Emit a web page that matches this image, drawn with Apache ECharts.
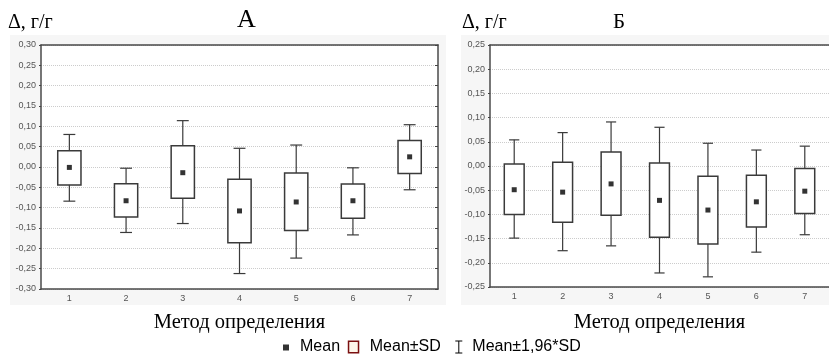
<!DOCTYPE html>
<html>
<head>
<meta charset="utf-8">
<script src="https://cdn.jsdelivr.net/npm/echarts@6/dist/echarts.min.js"></script>
<style>
  html, body { margin: 0; padding: 0; background: #fff; }
  #chart { width: 829px; height: 355px; }
</style>
</head>
<body>
<div id="chart"></div>
<script>
const categories = ['1', '2', '3', '4', '5', '6', '7'];

// panel A
const meanA   = [-0.001, -0.083, -0.014, -0.108, -0.086, -0.083, 0.025];
const sdLowA  = [-0.044, -0.123, -0.077, -0.186, -0.156, -0.126, -0.016];
const sdHighA = [0.040, -0.041, 0.052, -0.030, -0.015, -0.042, 0.065];
const ciLowA  = [-0.084, -0.161, -0.139, -0.262, -0.224, -0.167, -0.056];
const ciHighA = [0.080, -0.003, 0.114, 0.046, 0.054, -0.002, 0.104];

// panel B
const meanB   = [-0.049, -0.054, -0.037, -0.071, -0.091, -0.074, -0.052];
const sdLowB  = [-0.100, -0.116, -0.102, -0.147, -0.161, -0.126, -0.098];
const sdHighB = [0.004, 0.008, 0.029, 0.006, -0.021, -0.019, -0.005];
const ciLowB  = [-0.149, -0.175, -0.165, -0.221, -0.229, -0.178, -0.142];
const ciHighB = [0.054, 0.069, 0.091, 0.080, 0.047, 0.033, 0.041];

const rangeA = { min: -0.30, max: 0.30, interval: 0.05 };
const rangeB = { min: -0.25, max: 0.25, interval: 0.05 };

const chart = echarts.init(document.getElementById('chart'));

const fmt = v => (Math.abs(v) < 1e-9 ? 0 : v).toFixed(2).replace('.', ',');
const pairs = (lo, hi) => categories.map((c, i) => [i, lo[i], hi[i]]);
const points = vals => categories.map((c, i) => [i, vals[i]]);

function renderBox(params, api) {
    const x = api.value(0);
    const lo = api.coord([x, api.value(1)]);
    const hi = api.coord([x, api.value(2)]);
    const w = api.size([1, 0])[0] * 0.41;
    return {
        type: 'rect',
        shape: { x: lo[0] - w / 2, y: hi[1], width: w, height: lo[1] - hi[1] },
        style: { fill: '#fff', stroke: '#3a3a3a', lineWidth: 1.5 }
    };
}

function renderWhisker(params, api) {
    const x = api.value(0);
    const lo = api.coord([x, api.value(1)]);
    const hi = api.coord([x, api.value(2)]);
    const c = api.size([1, 0])[0] * 0.21 / 2;
    const style = { stroke: '#3a3a3a', lineWidth: 1.2 };
    return {
        type: 'group',
        children: [
            { type: 'line', shape: { x1: lo[0], y1: lo[1], x2: hi[0], y2: hi[1] }, style },
            { type: 'line', shape: { x1: lo[0] - c, y1: lo[1], x2: lo[0] + c, y2: lo[1] }, style },
            { type: 'line', shape: { x1: hi[0] - c, y1: hi[1], x2: hi[0] + c, y2: hi[1] }, style }
        ]
    };
}

const axisLine = { onZero: false, lineStyle: { color: '#4a4a4a', width: 1.5 } };
const axisLabel = { fontFamily: 'Liberation Sans', fontSize: 9, color: '#555' };
const nameStyle = { fontFamily: 'Liberation Serif', fontSize: 20.5, color: '#000' };

function bottomAxis(grid, gap) {
    return {
        type: 'category', gridIndex: grid, data: categories, boundaryGap: true,
        axisLine, axisTick: { alignWithLabel: true, inside: true, length: 2, lineStyle: { color: '#444' } },
        axisLabel: { ...axisLabel, margin: 5 },
        name: 'Метод определения', nameLocation: 'middle', nameGap: gap, nameTextStyle: nameStyle
    };
}
function topAxis(grid) {
    return {
        type: 'category', gridIndex: grid, data: categories, boundaryGap: true, position: 'top',
        axisLine, axisTick: { alignWithLabel: true, inside: true, length: 3, lineStyle: { color: '#444' } },
        axisLabel: { show: false }
    };
}
function leftAxis(grid, r) {
    return {
        type: 'value', gridIndex: grid, min: r.min, max: r.max, interval: r.interval,
        axisLine: { show: true, ...axisLine },
        axisTick: { show: true, length: 2, lineStyle: { color: '#444' } },
        axisLabel: { ...axisLabel, margin: 5, formatter: fmt },
        splitLine: { show: true, lineStyle: { color: '#cccccc', type: 'dotted', width: 1 } }
    };
}

function seriesFor(xi, yi, mean, sdLo, sdHi, ciLo, ciHi) {
    return [
        { name: 'Mean±1,96*SD', type: 'custom', xAxisIndex: xi, yAxisIndex: yi, z: 2,
          renderItem: renderWhisker, encode: { x: 0, y: [1, 2] }, data: pairs(ciLo, ciHi) },
        { name: 'Mean±SD', type: 'custom', xAxisIndex: xi, yAxisIndex: yi, z: 3,
          renderItem: renderBox, encode: { x: 0, y: [1, 2] }, data: pairs(sdLo, sdHi) },
        { name: 'Mean', type: 'scatter', xAxisIndex: xi, yAxisIndex: yi, z: 4,
          symbol: 'rect', symbolSize: 5, itemStyle: { color: '#000' }, data: points(mean) }
    ];
}

const option = {
    animation: false,
    backgroundColor: '#fff',
    graphic: [
        { type: 'rect', z: -10, shape: { x: 10, y: 35, width: 436, height: 270 }, style: { fill: '#f6f6f6' } },
        { type: 'rect', z: -10, shape: { x: 461, y: 35, width: 368, height: 270 }, style: { fill: '#f6f6f6' } }
    ],
    title: [
        { text: 'Δ, г/г', left: 8, top: 13, padding: 0, textStyle: { ...nameStyle, fontSize: 20, fontWeight: 'normal' } },
        { text: 'А', left: 237, top: 7, padding: 0, textStyle: { ...nameStyle, fontSize: 26, fontWeight: 'normal' } },
        { text: 'Δ, г/г', left: 462, top: 13, padding: 0, textStyle: { ...nameStyle, fontSize: 20, fontWeight: 'normal' } },
        { text: 'Б', left: 613, top: 12, padding: 0, textStyle: { ...nameStyle, fontSize: 21, fontWeight: 'normal' } }
    ],
    legend: {
        left: 273, top: 333, itemWidth: 17, itemHeight: 13, itemGap: 7, selectedMode: false,
        textStyle: { fontFamily: 'Liberation Sans', fontSize: 16, color: '#000' },
        data: [
            { name: 'Mean', icon: 'path://M5,4h6v6h-6zM0,0M17,13', itemStyle: { color: '#000' } },
            { name: 'Mean±SD', icon: 'path://M0.75,0.75h10v11.5h-10zM0,0M17,13',
              itemStyle: { color: '#fdf6ea', borderColor: '#7b1010', borderWidth: 1.5 } },
            { name: 'Mean±1,96*SD', icon: 'path://M5,0.5h7M8.5,0.5v12M5,12.5h7M0,0M17,13',
              itemStyle: { color: 'none', borderColor: '#000', borderWidth: 1 } }
        ]
    },
    grid: [
        { left: 41, top: 45, width: 397, height: 244, show: true, backgroundColor: '#fff', borderWidth: 0 },
        { left: 490, top: 45, width: 345, height: 242, show: true, backgroundColor: '#fff', borderWidth: 0 }
    ],
    xAxis: [bottomAxis(0, 23), topAxis(0), bottomAxis(1, 25), topAxis(1)],
    yAxis: [
        leftAxis(0, rangeA),
        { type: 'value', gridIndex: 0, position: 'right', min: rangeA.min, max: rangeA.max, interval: rangeA.interval,
          axisLine: { show: true, ...axisLine }, axisTick: { show: true, inside: true, length: 3, lineStyle: { color: '#444' } },
          axisLabel: { show: false }, splitLine: { show: false } },
        leftAxis(1, rangeB)
    ],
    series: [
        ...seriesFor(0, 0, meanA, sdLowA, sdHighA, ciLowA, ciHighA),
        ...seriesFor(2, 2, meanB, sdLowB, sdHighB, ciLowB, ciHighB)
    ]
};

chart.setOption(option);
</script>
</body>
</html>
